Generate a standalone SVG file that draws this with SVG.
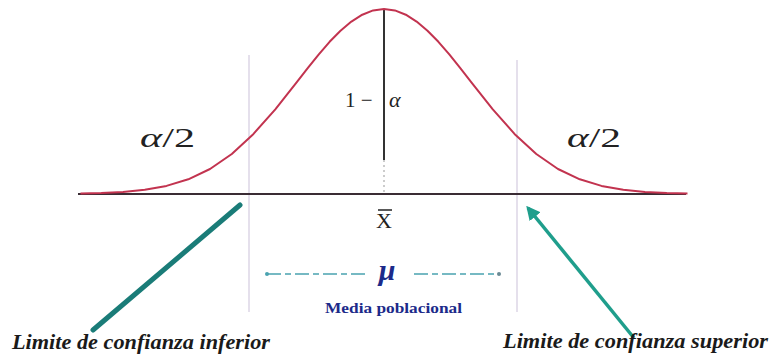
<svg xmlns="http://www.w3.org/2000/svg" width="771" height="357" viewBox="0 0 771 357">
<defs>
<style>
.serif{font-family:"Liberation Serif","DejaVu Serif",serif;fill:#222}
.lbl{font-family:"Liberation Serif","DejaVu Serif",serif;font-weight:bold;font-style:italic;font-size:20px;fill:#1a1a1a}
.guide{stroke:#dcd6e6;stroke-width:1.5;fill:none}
.mu{stroke:#4aa3b0;stroke-width:1.5;stroke-dasharray:14 4 6 4;fill:none}
</style>
<marker id="ah" viewBox="0 0 10 10" refX="8" refY="5" markerWidth="4" markerHeight="4" orient="auto">
<path d="M0,0 L10,5 L0,10 z" fill="#1f9e8c"/>
</marker>
</defs>
<rect width="771" height="357" fill="#fff"/>
<g id="guides">
<line class="guide" x1="249" y1="55" x2="249" y2="312"/>
<line class="guide" x1="517" y1="60" x2="517" y2="312"/>
</g>
<g id="axis">
<line x1="78" y1="194" x2="686" y2="194" stroke="#3a2c34" stroke-width="2"/>
<line x1="384" y1="9" x2="384" y2="160" stroke="#333" stroke-width="2"/>
<line x1="384" y1="160" x2="384" y2="194" stroke="#999" stroke-width="1" stroke-dasharray="2 3"/>
</g>
<g id="curve">
<polyline fill="none" stroke="#c2334f" stroke-width="2" stroke-linejoin="round" points="80.5,193.6 101.3,193.1 123,191.9 144.8,189.8 166.5,185.9 188.3,179.3 210,169 231.8,154 253.5,133.9 275.3,109.3 297,81.8 307.9,67.8 318.8,54.4 329.6,41.8 340.5,30.7 351.4,21.6 362.3,14.7 373.1,10.4 384,9 394.9,10.4 405.8,14.7 416.6,21.6 427.5,30.7 438.4,41.8 449.3,54.4 460.1,67.8 471,81.8 492.8,109.3 514.5,133.9 536.3,154 558,169 579.8,179.3 601.5,185.9 623.3,189.8 645,191.9 666.8,193.1 687.5,193.6"/>
</g>
<g id="labels">
<text class="serif" x="345" y="107" font-size="21">1 −</text>
<text class="serif" x="389" y="107" font-size="22" font-style="italic">α</text>
<text class="serif" x="140" y="147" font-size="28" textLength="55" lengthAdjust="spacingAndGlyphs"><tspan font-style="italic">α</tspan>/2</text>
<text class="serif" x="567" y="147" font-size="28" textLength="54" lengthAdjust="spacingAndGlyphs"><tspan font-style="italic">α</tspan>/2</text>
<text class="serif" x="384" y="228" font-size="22" text-anchor="middle">X</text>
<line x1="378" y1="210" x2="392" y2="210" stroke="#222" stroke-width="1.5"/>
</g>
<g id="mean">
<text x="387" y="280" font-family="Liberation Serif, DejaVu Serif, serif" font-size="30" font-weight="bold" font-style="italic" fill="#1c2a8a" text-anchor="middle">μ</text>
<text x="325" y="313" font-family="Liberation Serif, DejaVu Serif, serif" font-size="14" font-weight="bold" fill="#1c2a8a" textLength="137" lengthAdjust="spacingAndGlyphs">Media poblacional</text>
</g>
<g id="connectors">
<line class="mu" x1="365" y1="274" x2="267" y2="274"/>
<circle cx="267" cy="274" r="2" fill="#4aa3b0"/>
<line class="mu" x1="414" y1="274" x2="499" y2="274"/>
<circle cx="499" cy="274" r="2" fill="#6a8a94"/>
<line x1="240" y1="205" x2="93" y2="330" stroke="#1a7c78" stroke-width="5" stroke-linecap="round"/>
<line x1="634" y1="338" x2="528" y2="208" stroke="#1f9e8c" stroke-width="3.5" marker-end="url(#ah)"/>
</g>
<g id="bounds">
<text class="lbl" x="12" y="349" textLength="258" lengthAdjust="spacingAndGlyphs">Limite de confianza inferior</text>
<text class="lbl" x="503" y="348" textLength="265" lengthAdjust="spacingAndGlyphs">Limite de confianza superior</text>
</g>
</svg>
